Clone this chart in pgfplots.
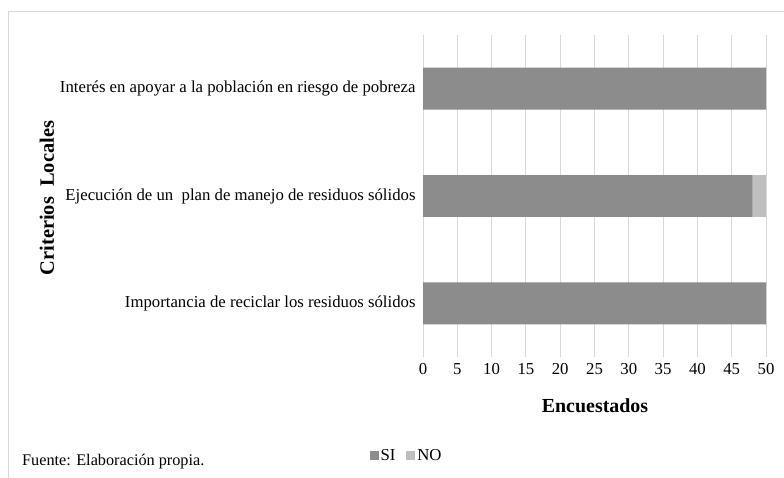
\documentclass[border=0pt]{standalone}
\usepackage{fontspec}
\setmainfont{Liberation Serif}
\usepackage{pgfplots}
\pgfplotsset{compat=1.18}
\definecolor{siGray}{HTML}{8C8C8C}
\definecolor{noGray}{HTML}{BFBFBF}
\definecolor{gridGray}{HTML}{D9D9D9}
\begin{document}
\begin{tikzpicture}
\useasboundingbox (0,0) rectangle (784bp,478bp);
\draw[gridGray, line width=1bp] (8bp,0) -- (8bp,466bp) -- (784bp,466bp);
\begin{axis}[
  at={(423bp,121bp)}, anchor=south west,
  scale only axis, width=343bp, height=322bp,
  xbar stacked, bar width=0.39,
  legend image code/.code={\fill[#1] (0bp,-4.5bp) rectangle (9bp,4.5bp);},
  xmin=0, xmax=50, ymin=-0.5, ymax=2.5,
  xtick={0,5,...,50}, ytick={0,1,2},
  yticklabels={Importancia de reciclar los residuos sólidos,
               Ejecución de un\ \ plan de manejo de residuos sólidos,
               Interés en apoyar a la población en riesgo de pobreza},
  xmajorgrids, grid style={gridGray, line width=1bp},
  axis line style={draw=none}, tick style={draw=none},
  /pgf/number format/assume math mode=true,
  ticklabel style={font=\fontsize{16.8}{20}\selectfont},
  xticklabel style={yshift=-3bp},
  yticklabel style={xshift=-4bp},
  clip=false,
  legend style={draw=none, fill=none, at={(-0.048,-0.307)}, anchor=center,
    legend columns=2, font=\fontsize{16.8}{20}\selectfont,
    /tikz/every even column/.append style={column sep=9bp},
    inner sep=0pt},
  legend cell align=left,
]
\addplot[fill=siGray, draw=none] coordinates {(50,0) (48,1) (50,2)};
\addplot[fill=noGray, draw=none] coordinates {(0,0) (2,1) (0,2)};
\legend{SI, NO}
\end{axis}
\node[font=\bfseries\fontsize{20}{24}\selectfont] at (595bp,72bp) {Encuestados};
\node[font=\bfseries\fontsize{20.5}{24}\selectfont, rotate=90] at (47bp,280bp) {Criterios\ \ Locales};
\node[font=\fontsize{16.3}{19}\selectfont, anchor=west, inner sep=0pt] at (22bp,16bp) {Fuente: Elaboración propia.};
\end{tikzpicture}
\end{document}
